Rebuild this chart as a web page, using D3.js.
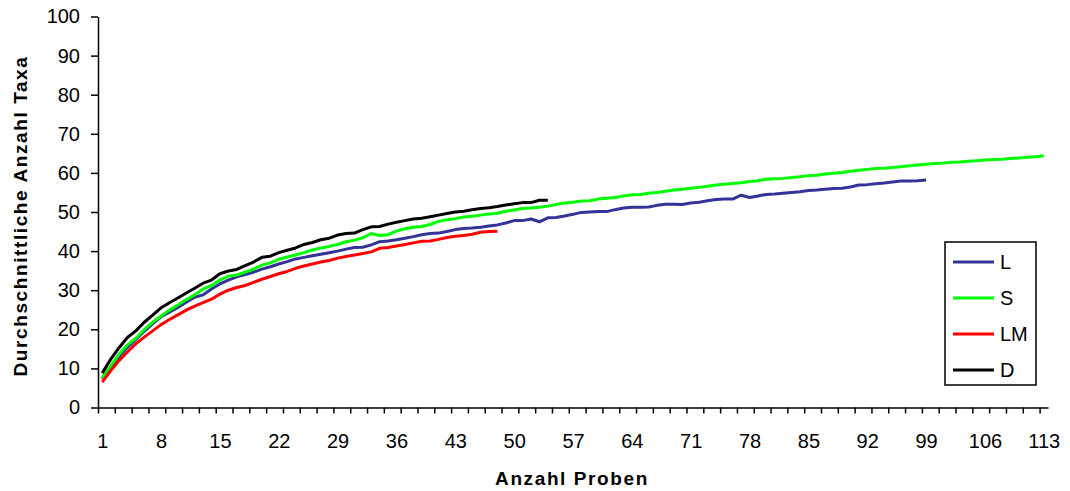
<!DOCTYPE html>
<html>
<head>
<meta charset="utf-8">
<script src="https://cdn.jsdelivr.net/npm/d3@7"></script>
<style>
  body { margin: 0; background: #fff; }
  svg { display: block; font-family: "Liberation Sans", Arial, sans-serif; }
  .axis path, .axis line { stroke: #000; stroke-width: 1.5; }
  .axis text { font-size: 20px; fill: #000; }
  .title { font-size: 19px; font-weight: bold; letter-spacing: 1.6px; }
</style>
</head>
<body>
<div id="chart"></div>
<script>
// categories 1..113 (Anzahl Proben)
var categories = d3.range(1, 114);
var xLabels = [1, 8, 15, 22, 29, 36, 43, 50, 57, 64, 71, 78, 85, 92, 99, 106, 113];
var yTicks = [0, 10, 20, 30, 40, 50, 60, 70, 80, 90, 100];

var seriesNames = ["L", "S", "LM", "D"];
var seriesColors = ["#333399", "#00ff00", "#ff0000", "#000000"];

var valuesL = [7.3, 10.0, 13.0, 15.4, 17.4, 19.5, 21.4, 23.2, 24.4, 25.6,
  26.9, 28.2, 28.8, 30.3, 31.6, 32.6, 33.4, 34.0, 34.6, 35.4,
  36.0, 36.7, 37.3, 38.0, 38.4, 38.8, 39.2, 39.6, 40.0, 40.5,
  40.9, 41.0, 41.6, 42.4, 42.6, 42.9, 43.3, 43.7, 44.2, 44.5,
  44.6, 45.0, 45.5, 45.8, 45.9, 46.1, 46.4, 46.7, 47.2, 47.8,
  47.8, 48.2, 47.5, 48.5, 48.6, 49.0, 49.4, 49.9, 50.0, 50.1,
  50.1, 50.6, 51.0, 51.2, 51.2, 51.3, 51.7, 52.0, 52.0, 51.9,
  52.3, 52.5, 52.9, 53.2, 53.3, 53.3, 54.3, 53.7, 54.1, 54.5,
  54.6, 54.8, 55.0, 55.2, 55.5, 55.6, 55.8, 56.0, 56.1, 56.4,
  56.9, 57.0, 57.2, 57.4, 57.7, 57.9, 57.9, 58.0, 58.2];

var valuesS = [7.5, 10.6, 13.6, 16.0, 17.7, 19.9, 21.8, 23.4, 24.9, 26.2,
  27.6, 28.8, 30.3, 31.2, 32.6, 33.6, 33.9, 34.6, 35.4, 36.4,
  37.0, 37.9, 38.5, 39.0, 39.6, 40.3, 40.8, 41.2, 41.7, 42.4,
  42.8, 43.4, 44.5, 44.0, 44.2, 45.1, 45.7, 46.1, 46.3, 46.8,
  47.6, 48.0, 48.3, 48.7, 48.9, 49.2, 49.5, 49.7, 50.2, 50.5,
  50.9, 51.0, 51.2, 51.5, 51.9, 52.3, 52.5, 52.8, 52.9, 53.3,
  53.5, 53.7, 54.1, 54.4, 54.5, 54.8, 55.0, 55.3, 55.6, 55.8,
  56.1, 56.3, 56.6, 56.9, 57.1, 57.3, 57.5, 57.8, 58.0, 58.4,
  58.5, 58.6, 58.8, 59.0, 59.3, 59.4, 59.7, 59.9, 60.1, 60.4,
  60.7, 60.9, 61.1, 61.2, 61.4, 61.6, 61.8, 62.0, 62.2, 62.4,
  62.5, 62.7, 62.8, 63.0, 63.1, 63.3, 63.4, 63.5, 63.7, 63.8,
  64.0, 64.1, 64.4];

var valuesLM = [6.5, 9.4, 12.0, 14.2, 16.3, 18.0, 19.6, 21.2, 22.5, 23.7,
  24.9, 25.9, 26.8, 27.7, 29.0, 30.0, 30.7, 31.2, 32.0, 32.8,
  33.5, 34.2, 34.8, 35.6, 36.2, 36.7, 37.2, 37.6, 38.2, 38.6,
  39.0, 39.4, 39.8, 40.7, 40.9, 41.3, 41.7, 42.1, 42.5, 42.6,
  43.0, 43.5, 43.8, 44.0, 44.3, 44.8, 45.0, 45.1];

var valuesD = [8.8, 12.3, 15.3, 17.9, 19.6, 21.8, 23.6, 25.5, 26.8, 28.0,
  29.3, 30.5, 31.8, 32.6, 34.2, 34.9, 35.3, 36.3, 37.2, 38.4,
  38.7, 39.6, 40.2, 40.8, 41.7, 42.2, 42.9, 43.3, 44.1, 44.5,
  44.6, 45.5, 46.2, 46.3, 46.9, 47.4, 47.8, 48.2, 48.4, 48.8,
  49.2, 49.6, 50.0, 50.2, 50.6, 50.9, 51.1, 51.4, 51.8, 52.1,
  52.4, 52.4, 53.0, 53.0];

var seriesValues = [valuesL, valuesS, valuesLM, valuesD];

var svgWidth = 1070;
var svgHeight = 491;
var plot = { left: 98, right: 1048, top: 16.5, bottom: 407.5 };

var svg = d3.select("#chart").append("svg")
  .attr("width", svgWidth)
  .attr("height", svgHeight);

// category centres (Excel "between tick marks")
var x = d3.scalePoint()
  .domain(categories)
  .range([plot.left, plot.right])
  .padding(0.5);

// category boundaries for the tick marks
var xEdge = d3.scaleLinear()
  .domain([0, categories.length])
  .range([plot.left, plot.right]);

var y = d3.scaleLinear()
  .domain([0, 100])
  .range([plot.bottom, plot.top]);

// x axis: tick marks every 2 categories
svg.append("g")
  .attr("class", "axis")
  .attr("transform", `translate(0, ${plot.bottom})`)
  .call(d3.axisBottom(xEdge)
    .tickValues(d3.range(0, categories.length, 2))
    .tickSize(6)
    .tickSizeOuter(0)
    .tickFormat(""));

// x labels
svg.append("g")
  .attr("class", "axis")
  .attr("transform", `translate(0, ${plot.bottom})`)
  .call(d3.axisBottom(x)
    .tickValues(xLabels)
    .tickSize(0)
    .tickPadding(26))
  .call(g => g.select(".domain").remove());

// y axis
svg.append("g")
  .attr("class", "axis")
  .attr("transform", `translate(${plot.left}, 0)`)
  .call(d3.axisLeft(y)
    .tickValues(yTicks)
    .tickSize(7)
    .tickSizeOuter(0)
    .tickPadding(11));

// lines
var line = d3.line()
  .x((d, i) => x(categories[i]))
  .y(d => y(d));

seriesValues.forEach(function(vals, k) {
  svg.append("path")
    .datum(vals)
    .attr("fill", "none")
    .attr("stroke", seriesColors[k])
    .attr("stroke-width", 3)
    .attr("stroke-linejoin", "round")
    .attr("d", line);
});

// axis titles
svg.append("text")
  .attr("class", "title")
  .attr("x", 572)
  .attr("y", 485)
  .attr("text-anchor", "middle")
  .text("Anzahl Proben");

svg.append("text")
  .attr("class", "title")
  .attr("transform", "translate(27, 216) rotate(-90)")
  .attr("text-anchor", "middle")
  .text("Durchschnittliche Anzahl Taxa");

// legend
var legend = svg.append("g");
legend.append("rect")
  .attr("x", 945)
  .attr("y", 242)
  .attr("width", 91)
  .attr("height", 143)
  .attr("fill", "#fff")
  .attr("stroke", "#000")
  .attr("stroke-width", 1.5);

seriesNames.forEach(function(name, k) {
  var ly = 262 + k * 36;
  legend.append("line")
    .attr("x1", 953).attr("x2", 994)
    .attr("y1", ly).attr("y2", ly)
    .attr("stroke", seriesColors[k])
    .attr("stroke-width", 3);
  legend.append("text")
    .attr("x", 1000)
    .attr("y", ly + 7)
    .attr("font-size", "20px")
    .text(name);
});
</script>
</body>
</html>
